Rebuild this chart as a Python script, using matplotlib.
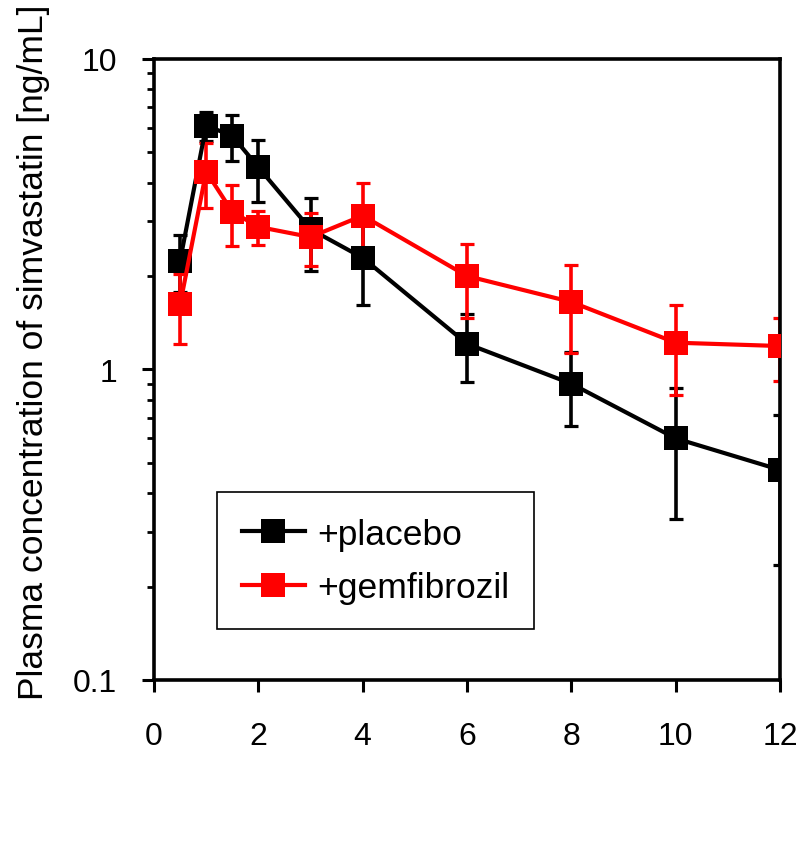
"""Simvastatin plasma concentration, placebo vs gemfibrozil."""
import matplotlib
matplotlib.use('Agg')
import matplotlib.pyplot as plt
from matplotlib.ticker import LogLocator, NullFormatter

# Sampling times (h)
TIME = [0.5, 1, 1.5, 2, 3, 4, 6, 8, 10, 12]

# Mean concentration and SD, ng/mL
PLACEBO = [2.24, 6.10, 5.66, 4.48, 2.83, 2.29, 1.21, 0.90, 0.60, 0.475]
PLACEBO_SD = [0.47, 0.67, 0.96, 1.02, 0.75, 0.68, 0.30, 0.24, 0.27, 0.24]
GEMFIBROZIL = [1.62, 4.34, 3.22, 2.88, 2.67, 3.13, 2.00, 1.65, 1.22, 1.19]
GEMFIBROZIL_SD = [0.41, 1.03, 0.72, 0.37, 0.51, 0.86, 0.53, 0.52, 0.39, 0.27]

LABELS = ['+placebo', '+gemfibrozil']
COLORS = ['black', '#ff0000']
XTICKS = [0, 2, 4, 6, 8, 10, 12]
YTICKS = [0.1, 1, 10]
YTICKLABELS = ['0.1', '1', '10']

plt.rcParams['font.family'] = ['Liberation Sans', 'DejaVu Sans']
FS = 23
FS_BIG = 25.5

fig = plt.figure(figsize=(8.03, 8.62), dpi=100)
ax = fig.add_axes([0.1918, 0.2100, 0.7795, 0.7204])

series = [(PLACEBO, PLACEBO_SD), (GEMFIBROZIL, GEMFIBROZIL_SD)]
for i, ((mean, sd), color, label) in enumerate(zip(series, COLORS, LABELS)):
    # error bars sit beneath every line and marker
    ax.errorbar(TIME, mean, yerr=sd, fmt='none', ecolor=color,
                elinewidth=2.6, capsize=4.8, capthick=2.3, zorder=2 + 0.1 * i)
    ax.plot(TIME, mean, color=color, linewidth=3, marker='s',
            markersize=17, markeredgewidth=0, label=label, zorder=3 + i)

ax.set_yscale('log')
ax.set_xlim(0, 12)
ax.set_ylim(0.1, 10)
ax.set_xticks(XTICKS)
ax.set_xticklabels([str(x) for x in XTICKS])
ax.set_yticks(YTICKS)
ax.set_yticklabels(YTICKLABELS)
ax.yaxis.set_minor_locator(LogLocator(base=10, subs=range(2, 10)))
ax.yaxis.set_minor_formatter(NullFormatter())

ax.tick_params(axis='both', which='major', direction='out', length=8.5,
               width=2.2, labelsize=FS)
ax.tick_params(axis='x', pad=21)
ax.tick_params(axis='y', which='major', pad=18)
ax.tick_params(axis='y', which='minor', direction='out', length=5, width=2)
ax.tick_params(top=False, right=False, which='both')

for s in ax.spines.values():
    s.set_linewidth(2.6)

ax.set_ylabel('Plasma concentration of simvastatin [ng/mL]', fontsize=FS_BIG)
ax.yaxis.set_label_coords(-0.166, 0.53)

leg = ax.legend(loc='upper left', bbox_to_anchor=(0.100, 0.302),
                fontsize=FS_BIG, frameon=True, fancybox=False, shadow=False,
                handlelength=1.78, handletextpad=0.34, borderpad=0.71,
                labelspacing=0.58, borderaxespad=0, framealpha=1)
leg.get_frame().set_edgecolor('black')
leg.get_frame().set_linewidth(1.2)

fig.savefig('out.png', dpi=100)
